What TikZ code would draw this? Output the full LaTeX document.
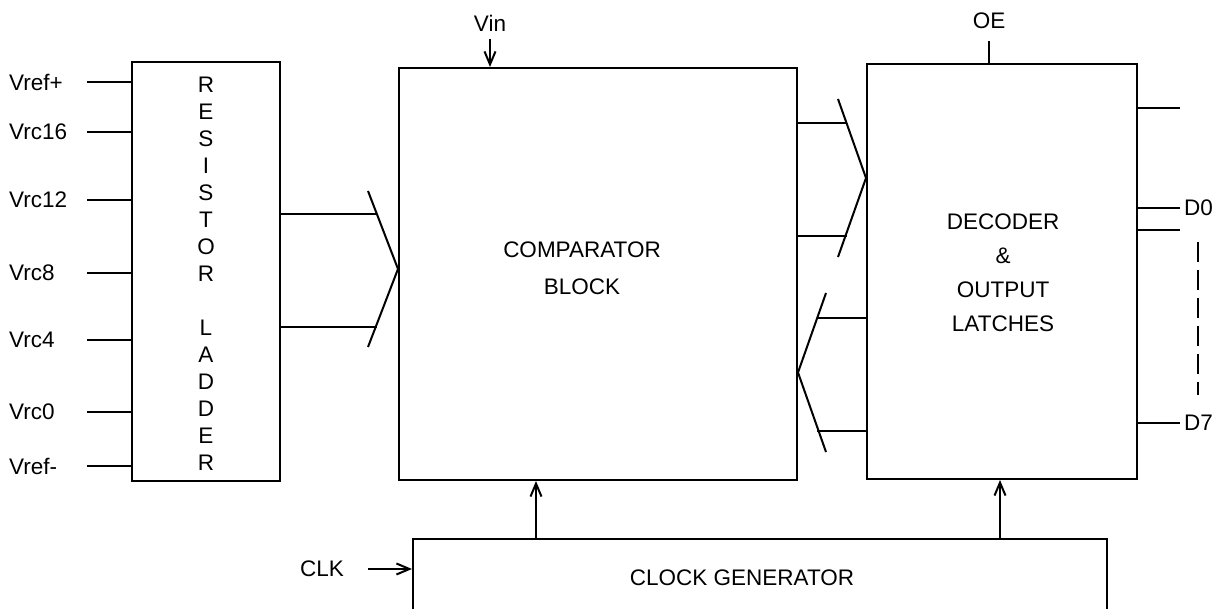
\documentclass[tikz,border=0pt]{standalone}
\usepackage{fontspec}
\setmainfont{Liberation Sans}
\usetikzlibrary{positioning,calc,arrows.meta}
\tikzset{
  wire/.style  = {line width=2pt},
  arr/.style   = {line width=2pt, -{Straight Barb[length=13pt,width=11pt,line width=2pt]}},
  blk/.style   = {draw, line width=2pt, inner sep=0pt},
  lbl/.style   = {font=\fontsize{22.5}{26}\selectfont, inner sep=1pt},
}
\begin{document}
\begin{tikzpicture}[x=1pt,y=-1pt]
  \useasboundingbox (0,0) rectangle (1226,609);
  \clip (0,0) rectangle (1226,609);
  % blocks
  \node[blk, minimum width=148pt, minimum height=419pt] (lad) at (206,271.5) {};
  \node[blk, minimum width=398pt, minimum height=412pt] (cmp) at (598,274) {};
  \node[blk, minimum width=270pt, minimum height=415pt] (dec) at (1002,271.5) {};
  \node[blk, minimum width=694pt, minimum height=120pt] (clk) at (760,599) {};
  % block texts
  \node[lbl, align=center, font=\fontsize{22.5}{27}\selectfont] (ladtxt) at (206,274)
    {R\\E\\S\\I\\S\\T\\O\\R\\[27pt]L\\A\\D\\D\\E\\R};
  \node[lbl, align=center, font=\fontsize{22.5}{37}\selectfont] (cmptxt) at (582,268)
    {COMPARATOR\\BLOCK};
  \node[lbl, align=center, font=\fontsize{22.5}{34}\selectfont] (dectxt) at (1003,273)
    {DECODER\\\&\\OUTPUT\\LATCHES};
  \node[lbl] (clktxt) at (742,578) {CLOCK GENERATOR};
  % reference pins
  \foreach \nm/\yy in {Vref+/82, Vrc16/132, Vrc12/200, Vrc8/273, Vrc4/340, Vrc0/412, Vref-/466}{
    \node[lbl, anchor=west] (p\yy) at (8,\yy) {\nm};
    \draw[wire] ($(lad.west |- 0,\yy)+(-44,0)$) -- (lad.west |- 0,\yy);
  }
  % bus ladder -> comparator
  \coordinate (b1t) at (368,191);
  \coordinate (b1b) at (368,347);
  \draw[wire] (b1t) -- (cmp.west |- 0,269) -- (b1b);
  \draw[wire] (lad.east |- 0,214) -- (376.8,214);
  \draw[wire] (lad.east |- 0,327) -- (376.8,327);
  % bus comparator -> decoder
  \coordinate (b2t) at (838,99);
  \coordinate (b2b) at (838,257);
  \draw[wire] (b2t) -- (dec.west |- 0,178) -- (b2b);
  \draw[wire] (cmp.east |- 0,123) -- (846.4,123);
  \draw[wire] (cmp.east |- 0,236) -- (846.7,236);
  % bus decoder -> comparator
  \coordinate (b3t) at (826,293);
  \coordinate (b3b) at (826,452);
  \draw[wire] (b3t) -- (cmp.east |- 0,372.5) -- (b3b);
  \draw[wire] (dec.west |- 0,318) -- (816.8,318);
  \draw[wire] (dec.west |- 0,431) -- (816.6,431);
  % outputs
  \foreach \yy in {108,208,230,423}
    \draw[wire] (dec.east |- 0,\yy) -- ++(42,0);
  \node[lbl, anchor=west] (d0) at (1183,208) {D0};
  \node[lbl, anchor=west] (d7) at (1183,423) {D7};
  \draw[wire, dash pattern=on 20pt off 8pt] (1198,242) -- (1198,395);
  % control inputs
  \node[lbl] (vin) at (490,23) {Vin};
  \draw[arr] (490,39) -- (cmp.north -| 490,0);
  \node[lbl] (oe) at (989,21) {OE};
  \draw[wire] (989,41) -- (dec.north -| 989,0);
  \node[lbl, anchor=east] (clkin) at (345,569) {CLK};
  \draw[arr] (368,569) -- (clk.west |- 0,569);
  \draw[arr] (clk.north -| 536,0) -- (cmp.south -| 536,0);
  \draw[arr] (clk.north -| 1000,0) -- (dec.south -| 1000,0);
\end{tikzpicture}
\end{document}
